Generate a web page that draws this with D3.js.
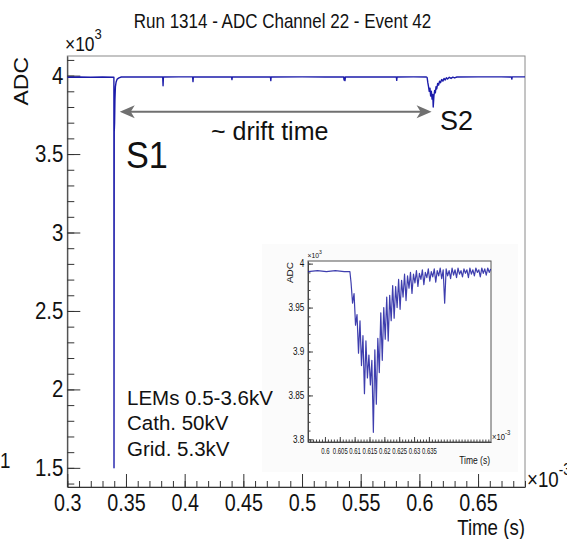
<!DOCTYPE html>
<html>
<head>
<meta charset="utf-8">
<script src="https://cdn.jsdelivr.net/npm/d3@7"></script>
<style>
body { margin: 0; background: #fff; }
text { font-family: "Liberation Sans", Arial, sans-serif; fill: #111; }
</style>
</head>
<body>
<svg width="567" height="539"></svg>
<script>
// main waveform (time in 1e-3 s, ADC counts)
const mainTime = [0.3000, 0.3100, 0.3200, 0.3300, 0.3397, 0.3398, 0.3400, 0.3403, 0.3406, 0.3410,
    0.3416, 0.3425, 0.3440, 0.3460, 0.3600, 0.3813, 0.3816, 0.3819, 0.3950, 0.4068,
    0.4071, 0.4074, 0.4200, 0.4400, 0.4403, 0.4406, 0.4600, 0.4731, 0.4734, 0.4737,
    0.5000, 0.5200, 0.5355, 0.5358, 0.5362, 0.5366, 0.5370, 0.5600, 0.5804, 0.5807,
    0.5810, 0.5950, 0.6060, 0.6066, 0.6072, 0.6078, 0.6084, 0.6090, 0.6096, 0.6102,
    0.6108, 0.6114, 0.6118, 0.6124, 0.6130, 0.6136, 0.6142, 0.6148, 0.6156, 0.6164,
    0.6172, 0.6180, 0.6190, 0.6200, 0.6210, 0.6220, 0.6230, 0.6240, 0.6255, 0.6270,
    0.6285, 0.6300, 0.6320, 0.6500, 0.6700, 0.6785, 0.6788, 0.6791, 0.6900];
const mainAdc = [3990, 3991, 3990, 3991, 3990, 1500, 3640, 3700, 3850, 3930,
    3960, 3978, 3986, 3991, 3991, 3991, 3935, 3991, 3992, 3992,
    3962, 3991, 3991, 3992, 3975, 3992, 3991, 3991, 3968, 3991,
    3992, 3991, 3991, 3972, 3990, 3968, 3991, 3991, 3991, 3970,
    3991, 3992, 3991, 3988, 3955, 3930, 3900, 3920, 3870, 3900,
    3850, 3880, 3800, 3870, 3905, 3890, 3930, 3915, 3950, 3940,
    3965, 3955, 3975, 3965, 3982, 3972, 3986, 3978, 3989, 3982,
    3990, 3985, 3991, 3992, 3992, 3991, 3978, 3992, 3992];

// zoomed S2 (inset)
const insetTime = [0.5943, 0.5975, 0.6005, 0.6035, 0.6065, 0.6084,
    0.6088, 0.6093, 0.6098, 0.6103, 0.6108, 0.6113, 0.6118, 0.6123, 0.6128, 0.6133,
    0.6138, 0.6143, 0.6148, 0.6153, 0.6158, 0.6163, 0.6168, 0.6173, 0.6178, 0.6183,
    0.6188, 0.6193, 0.6198, 0.6203, 0.6208, 0.6213, 0.6218, 0.6223, 0.6228, 0.6233,
    0.6238, 0.6243, 0.6248, 0.6253, 0.6258, 0.6263, 0.6268, 0.6273, 0.6278, 0.6283,
    0.6288, 0.6293, 0.6298, 0.6303, 0.6308, 0.6313, 0.6318, 0.6323, 0.6328, 0.6333,
    0.6338, 0.6343, 0.6348, 0.6353, 0.6358, 0.6363, 0.6368, 0.6373, 0.6378, 0.6383,
    0.6388, 0.6393, 0.6398, 0.6403, 0.6408, 0.6413, 0.6418, 0.6423, 0.6428, 0.6433,
    0.6438, 0.6443, 0.6448, 0.6453, 0.6458, 0.6463, 0.6468, 0.6473, 0.6478, 0.6483,
    0.6488, 0.6493, 0.6498, 0.6503, 0.6508, 0.6513, 0.6518, 0.6523, 0.6528, 0.6533,
    0.6538, 0.6543, 0.6548, 0.6553, 0.6558];
const insetAdc = [3991, 3992, 3991, 3992, 3991, 3991,
    3978, 3955, 3966, 3930, 3942, 3898, 3935, 3884, 3918, 3852,
    3912, 3870, 3896, 3862, 3890, 3808, 3902, 3840, 3915, 3876,
    3944, 3890, 3950, 3914, 3962, 3912, 3964, 3935, 3975, 3938,
    3974, 3950, 3982, 3948, 3981, 3962, 3988, 3958, 3986, 3972,
    3990, 3966, 3988, 3978, 3992, 3974, 3989, 3982, 3993, 3976,
    3990, 3984, 3994, 3980, 3991, 3985, 3994, 3979, 3992, 3986,
    3995, 3983, 3993, 3955, 3994, 3986, 3992, 3983, 3995, 3987,
    3993, 3984, 3995, 3988, 3992, 3985, 3994, 3989, 3993, 3984,
    3995, 3988, 3993, 3986, 3995, 3990, 3993, 3985, 3995, 3989,
    3994, 3987, 3995, 3990, 3994];

// ticks
const xTicks = [0.3, 0.35, 0.4, 0.45, 0.5, 0.55, 0.6, 0.65];
const xMinor = d3.range(30, 70).map(d => d / 100);
const yTicks = [1500, 2000, 2500, 3000, 3500, 4000];
const yMinor = d3.range(14, 42).map(d => d * 100);
const insetXTicks = [0.6, 0.605, 0.61, 0.615, 0.62, 0.625, 0.63, 0.635];
const insetXMinor = d3.range(595, 656).map(d => d / 1000);
const insetYTicks = [3800, 3850, 3900, 3950, 4000];
const insetYMinor = d3.range(380, 401).map(d => d * 10);

const svg = d3.select('svg');

const x = d3.scaleLinear().domain([0.3, 0.69]).range([67.3, 525]);
const y = d3.scaleLinear().domain([1378, 4125]).range([487, 56]);

// squeezed text like the ROOT canvas
const txt = (sel, tx, ty, str, size, anchor, sx) => sel.append('text')
    .attr('transform', `translate(${tx},${ty}) scale(${sx},1)`)
    .attr('font-size', size)
    .attr('text-anchor', anchor)
    .text(str);

// TITLE
txt(svg, 282.5, 28, 'Run 1314 - ADC Channel 22 - Event 42', 20, 'middle', 0.85);

// FRAME
svg.append('rect')
    .attr('x', x.range()[0]).attr('y', y.range()[1])
    .attr('width', x.range()[1] - x.range()[0])
    .attr('height', y.range()[0] - y.range()[1])
    .attr('fill', 'none').attr('stroke', '#8a8a8a');

// AXES
const styleAxis = (g, size, sx) => {
    g.selectAll('line').attr('stroke', '#333');
    g.select('.domain').attr('stroke', '#333');
    g.selectAll('text')
        .attr('font-size', size)
        .attr('font-family', '"Liberation Sans", Arial, sans-serif')
        .attr('fill', '#111')
        .attr('transform', `scale(${sx},1)`);
};

const gy = svg.append('g').attr('transform', `translate(${x.range()[0]},0)`);
gy.append('g').call(d3.axisLeft(y).tickValues(yMinor).tickSize(-7).tickFormat(''))
    .call(g => g.select('.domain').remove())
    .selectAll('line').attr('stroke', '#333');
gy.append('g').call(d3.axisLeft(y).tickValues(yTicks).tickSize(-13).tickSizeOuter(0)
    .tickPadding(4.5).tickFormat(d => d / 1000))
    .call(g => styleAxis(g, 23.5, 0.87));

const gx = svg.append('g').attr('transform', `translate(0,${y.range()[0]})`);
gx.append('g').call(d3.axisBottom(x).tickValues(xMinor).tickSize(-6).tickFormat(''))
    .call(g => g.select('.domain').remove())
    .selectAll('line').attr('stroke', '#333');
gx.append('g').call(d3.axisBottom(x).tickValues(xTicks).tickSize(-13).tickSizeOuter(0)
    .tickPadding(7.5).tickFormat(d => d))
    .call(g => styleAxis(g, 23.5, 0.84));

// axis titles & exponents
svg.append('text')
    .attr('transform', 'translate(27.5,57) scale(0.9,1) rotate(-90)')
    .attr('font-size', 23).attr('text-anchor', 'end').text('ADC');
txt(svg, 525, 535, 'Time (s)', 21.5, 'end', 0.87);

const ey = txt(svg, 65, 51, '×10', 20, 'start', 0.87);
ey.append('tspan').attr('font-size', 15).attr('dy', -12).text('3');
const ex = txt(svg, 527, 487, '×10', 22, 'start', 0.85);
ex.append('tspan').attr('font-size', 16).attr('dy', -12).text('-3');
txt(svg, 0, 468, '1', 22, 'start', 0.85);

// TRACE
svg.append('clipPath').attr('id', 'clipMain').append('rect')
    .attr('x', x.range()[0]).attr('y', y.range()[1])
    .attr('width', x.range()[1] - x.range()[0])
    .attr('height', y.range()[0] - y.range()[1]);

const line = d3.line().x(i => x(mainTime[i])).y(i => y(mainAdc[i]));
svg.append('path')
    .attr('clip-path', 'url(#clipMain)')
    .attr('d', line(d3.range(mainTime.length)))
    .attr('fill', 'none')
    .attr('stroke', '#1c1caa')
    .attr('stroke-width', 1.4)
    .attr('stroke-linejoin', 'round');

// INSET
const ix = d3.scaleLinear().domain([0.5943, 0.6559]).range([308, 491]);
const iy = d3.scaleLinear().domain([3797, 4003]).range([442, 261]);
const inset = svg.append('g');

inset.append('rect')
    .attr('x', 262).attr('y', 244).attr('width', 256).attr('height', 228)
    .attr('fill', '#fbfbfb');
inset.append('rect')
    .attr('x', ix.range()[0]).attr('y', iy.range()[1])
    .attr('width', ix.range()[1] - ix.range()[0])
    .attr('height', iy.range()[0] - iy.range()[1])
    .attr('fill', '#fff').attr('stroke', '#555');

const styleInset = (g, size, sx) => {
    g.selectAll('line').attr('stroke', '#444');
    g.select('.domain').attr('stroke', '#444');
    g.selectAll('text')
        .attr('font-size', size)
        .attr('font-family', '"Liberation Sans", Arial, sans-serif')
        .attr('fill', '#333')
        .attr('transform', `scale(${sx},1)`);
};

const igy = inset.append('g').attr('transform', `translate(${ix.range()[0]},0)`);
igy.append('g').call(d3.axisLeft(iy).tickValues(insetYMinor).tickSize(-2.5).tickFormat(''))
    .call(g => g.select('.domain').remove())
    .selectAll('line').attr('stroke', '#444');
igy.append('g').call(d3.axisLeft(iy).tickValues(insetYTicks).tickSize(-5).tickSizeOuter(0)
    .tickPadding(4.5).tickFormat(d => d / 1000))
    .call(g => styleInset(g, 10, 0.82));

const igx = inset.append('g').attr('transform', `translate(0,${iy.range()[0]})`);
igx.append('g').call(d3.axisBottom(ix).tickValues(insetXMinor).tickSize(-2.5).tickFormat(''))
    .call(g => g.select('.domain').remove())
    .selectAll('line').attr('stroke', '#444');
igx.append('g').call(d3.axisBottom(ix).tickValues(insetXTicks).tickSize(-5).tickSizeOuter(0)
    .tickPadding(6).tickFormat(d => d))
    .call(g => styleInset(g, 9, 0.66));

inset.append('text')
    .attr('transform', 'translate(292.5,262) scale(0.85,1) rotate(-90)')
    .attr('font-size', 10).attr('text-anchor', 'end').attr('fill', '#333').text('ADC');
txt(inset, 490, 464, 'Time (s)', 10, 'end', 0.85).attr('fill', '#333');
const iey = txt(inset, 307.5, 258, '×10', 8, 'start', 0.85).attr('fill', '#444');
iey.append('tspan').attr('font-size', 6).attr('dy', -4).text('3');
const iex = txt(inset, 492, 440, '×10', 9, 'start', 0.85).attr('fill', '#444');
iex.append('tspan').attr('font-size', 7).attr('dy', -5).text('-3');

inset.append('clipPath').attr('id', 'clipInset').append('rect')
    .attr('x', ix.range()[0]).attr('y', iy.range()[1])
    .attr('width', ix.range()[1] - ix.range()[0])
    .attr('height', iy.range()[0] - iy.range()[1]);

const iline = d3.line().x(i => ix(insetTime[i])).y(i => iy(insetAdc[i]));
inset.append('path')
    .attr('clip-path', 'url(#clipInset)')
    .attr('d', iline(d3.range(insetTime.length)))
    .attr('fill', 'none')
    .attr('stroke', '#1c1ca0')
    .attr('stroke-width', 1.2)
    .attr('stroke-opacity', 0.85)
    .attr('stroke-linejoin', 'round');

// ANNOTATIONS (on top of the inset)
const arrowY = 111.7;
const a0 = x(0.3447), a1 = x(0.6104);
svg.append('line')
    .attr('x1', a0 + 8).attr('x2', a1 - 8)
    .attr('y1', arrowY).attr('y2', arrowY)
    .attr('stroke', '#707070').attr('stroke-width', 2);
const head = (tip, dir) => svg.append('path')
    .attr('d', `M${tip},${arrowY} L${tip + dir * 15},${arrowY - 6.5} L${tip + dir * 11},${arrowY} L${tip + dir * 15},${arrowY + 6.5} Z`)
    .attr('fill', '#707070');
head(a0, 1);
head(a1, -1);

txt(svg, 211, 140, '~ drift time', 25, 'start', 1);
txt(svg, 126, 168, 'S1', 36, 'start', 0.95);
txt(svg, 440, 129.5, 'S2', 27, 'start', 1);
txt(svg, 127, 405, 'LEMs 0.5-3.6kV', 20.5, 'start', 1);
txt(svg, 127, 430, 'Cath. 50kV', 20.5, 'start', 1);
txt(svg, 127, 455.5, 'Grid. 5.3kV', 20.5, 'start', 1);
</script>
</body>
</html>
